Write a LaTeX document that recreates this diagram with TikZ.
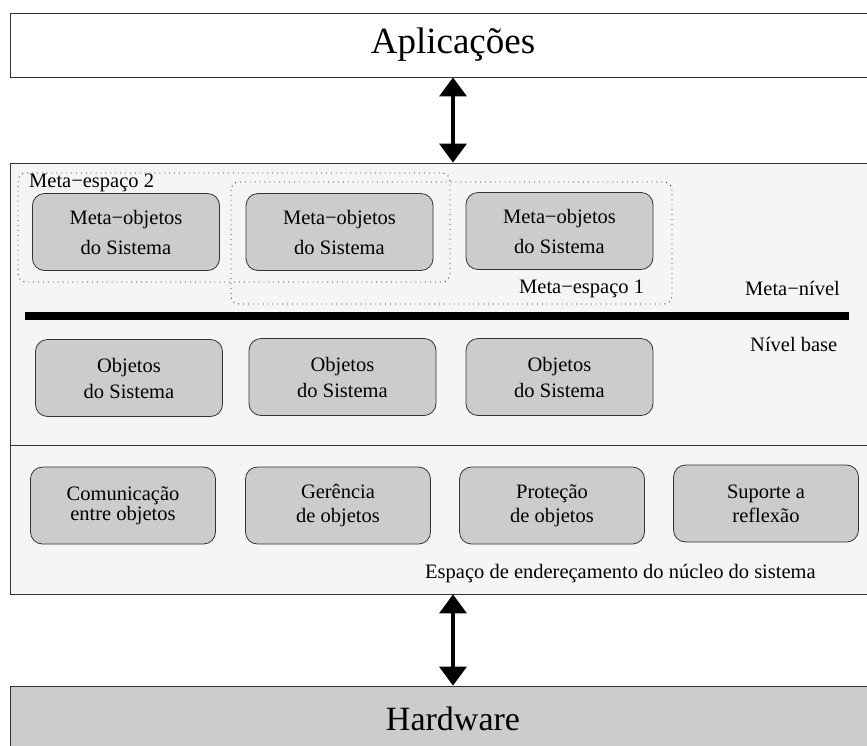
\documentclass[tikz,border=0pt]{standalone}
\usepackage{fontspec}
\setmainfont{Liberation Serif}
\usetikzlibrary{arrows.meta}

\tikzset{
    layer/.style={rectangle,draw=black!80,line width=0.8pt,inner sep=0pt},
    objbox/.style={rectangle,rounded corners=12pt,draw=black!80,fill=black!20,line width=0.8pt,
        align=center,inner sep=0pt,minimum width=187pt,minimum height=77pt},
    metaspace/.style={draw=black!85,line width=0.9pt,dash pattern=on 0.9pt off 4pt,rounded corners=8pt},
    lbl/.style={anchor=base west,inner sep=0pt,font=\fontsize{20.5}{24}\selectfont},
    dblarrow/.style={draw=black,line width=3.5pt,
        {Triangle[length=19pt,width=27pt]}-{Triangle[length=19pt,width=27pt]}}
}

\begin{document}
\begin{tikzpicture}[x=1pt,y=-1pt]
        \useasboundingbox (0,0) rectangle (867,745);
        % layers
        \begin{scope}[every node/.style={layer}]
            \node (apps) [fill=white, minimum width=886pt, minimum height=64pt, font=\fontsize{37}{42}\selectfont] at (453, 45) {Aplicações};
            \node (user) [fill=black!4, minimum width=886pt, minimum height=282pt] at (453, 304) {};
            \node (kernel) [fill=black!4, minimum width=886pt, minimum height=149pt] at (453, 519.5) {};
            \node (hw) [fill=black!20, minimum width=886pt, minimum height=66pt, font=\fontsize{34}{40}\selectfont] at (453, 719) {Hardware};
        \end{scope}
        % meta-espacos
        \draw [metaspace] (18, 173) rectangle (450, 282);
        \draw [metaspace] (231, 182) rectangle (672, 304);
        \draw [line width=8pt] (25, 316) -- (849, 316);
        \begin{scope}[every node/.style={lbl}]
            \node (ms2) at (29, 187) {Meta−espaço 2};
            \node (ms1) at (519, 293) {Meta−espaço 1};
            \node (meta) at (745, 295) {Meta−nível};
            \node (base) at (750, 351) {Nível base};
            \node (esp) at (425, 578) {Espaço de endereçamento do núcleo do sistema};
        \end{scope}
        \begin{scope}[every node/.style={objbox,font=\fontsize{20.5}{30}\selectfont}]
            \node (M0) at (126, 232) {Meta−objetos\\do Sistema};
            \node (M1) at (339.5, 232) {Meta−objetos\\do Sistema};
            \node (M2) at (559.5, 231) {Meta−objetos\\do Sistema};
        \end{scope}
        \begin{scope}[every node/.style={objbox,font=\fontsize{20.5}{26}\selectfont}]
            \node (O0) at (129, 378) {Objetos\\do Sistema};
            \node (O1) at (342.5, 377) {Objetos\\do Sistema};
            \node (O2) at (559.5, 377) {Objetos\\do Sistema};
        \end{scope}
        \begin{scope}[every node/.style={objbox,minimum width=185pt,font=\fontsize{20.5}{24}\selectfont}]
            \node (K0) at (123, 505.5) {Comunicação\\[-4pt]entre objetos};
            \node (K1) at (338, 505.5) {Gerência\\de objetos};
            \node (K2) at (552, 505.5) {Proteção\\de objetos};
            \node (K3) at (766, 503.5) {Suporte a\\reflexão};
        \end{scope}
        \path (apps) edge[dblarrow] (user);
        \path (kernel) edge[dblarrow] (hw);
    \end{tikzpicture}
\end{document}
